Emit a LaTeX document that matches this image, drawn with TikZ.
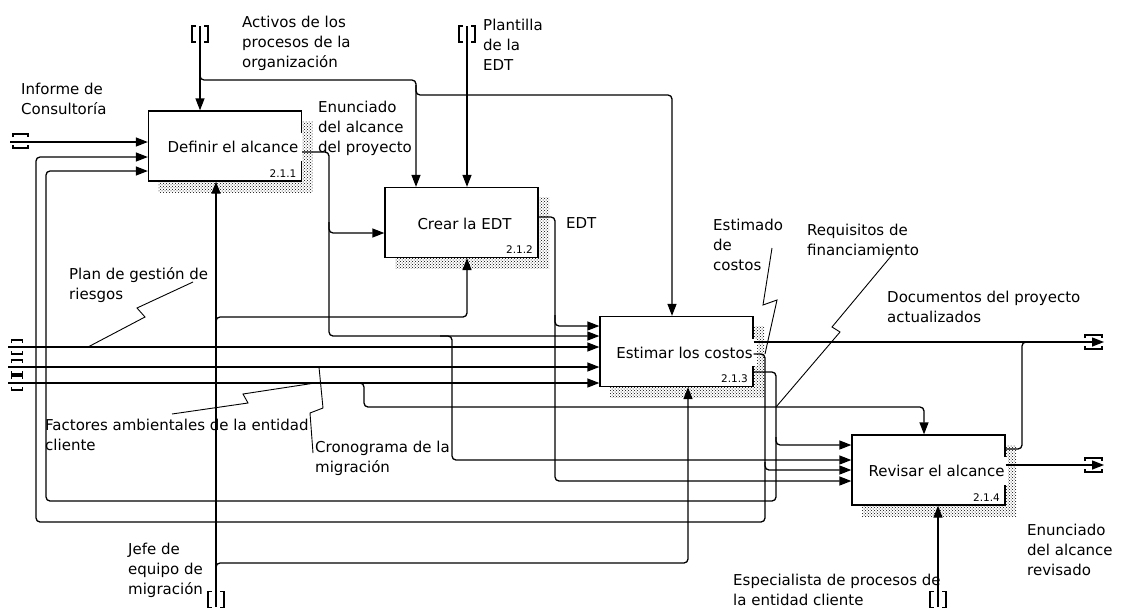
\documentclass[tikz,border=0pt]{standalone}
\usepackage{fontspec}
\setmainfont{DejaVu Sans}
\usetikzlibrary{arrows.meta,patterns}

\tikzset{
	box/.style={draw, line width=1.3pt, fill=white, minimum width=153pt, minimum height=70pt, inner sep=0pt},
	shade/.style={pattern=crosshatch dots, pattern color=black},
	act/.style={fill=white, inner xsep=4pt, inner ysep=8pt, font=\fontsize{15}{20}\selectfont},
	num/.style={anchor=base east, inner sep=0pt, font=\fontsize{10.5}{12}\selectfont},
	lbl/.style={anchor=north west, inner sep=0pt, align=left, font=\fontsize{15}{20}\selectfont},
	flow/.style={line width=1.3pt, rounded corners=4pt},
	arr/.style={flow, -{Triangle[length=12pt,width=9pt]}},
	squig/.style={line width=0.9pt},
	tun/.style={line width=1.2pt}
}

\newcommand{\vtunnel}[1]{%
	\begin{scope}[shift={(#1)}]
		\draw[tun] (-4,-8) -- (-8,-8) -- (-8,8) -- (-4,8);
		\draw[tun] (4,-8) -- (8,-8) -- (8,8) -- (4,8);
	\end{scope}}
\newcommand{\htunnel}[2]{%
	\begin{scope}[shift={(#1)}]
		\draw[tun] (-#2,-4) -- (-#2,-7) -- (#2,-7) -- (#2,-4);
		\draw[tun] (-#2,4) -- (-#2,7) -- (#2,7) -- (#2,4);
	\end{scope}}

\begin{document}
\begin{tikzpicture}[x=1pt,y=-1pt]
	\useasboundingbox (0,0) rectangle (1123,608);

	% actividades
	\foreach \n/\x/\y/\d/\t/\k in {a1/225/146/8/Definir el alcance/2.1.1,
			a2/461.5/222.5/3/Crear la EDT/2.1.2,
			a3/676.5/351.5/8/Estimar los costos/2.1.3,
			a4/928.5/470/8/Revisar el alcance/2.1.4}{
		\fill[shade] (\x-66.5,\y-25) rectangle (\x+87.5,\y+46);
		\node[box] (\n) at (\x,\y) {};
		\node[act] (\n-t) at (\x+\d,\y+1) {\t};
		\node[num] (\n-n) at (\x+71.5,\y+31) {\k};
	}

	% extremos libres
	\coordinate (inf) at (10,142);
	\coordinate (act) at (200,26);
	\coordinate (pla) at (467,26);
	\coordinate (plan) at (8,347);
	\coordinate (cro) at (8,367);
	\coordinate (fac) at (8,383);
	\coordinate (jefe) at (216,607);
	\coordinate (esp) at (938,607);
	\coordinate (doc) at (1104,342);
	\coordinate (rev) at (1104,465);

	% entradas y controles externos
	\draw[arr] (inf) -- (inf -| a1.west);
	\draw[arr] (act) -- (act |- a1.north);
	\draw[arr] (200,72) -- (200,80) -- (416,80) -- (a2.north -| 416,0);
	\draw[arr] (416,85) -- (416,95) -- (672,95) -- (a3.north -| 672,0);
	\draw[arr] (pla) -- (pla |- a2.north);
	\draw[arr] (plan) -- (plan -| a3.west);
	\draw[arr] (cro) -- (cro -| a3.west);
	\draw[arr] (fac) -- (fac -| a3.west);
	\draw[arr] (355,383) -- (364,383) -- (364,407) -- (924,407) -- (a4.north -| 924,0);

	% mecanismos
	\draw[arr] (jefe) -- (jefe |- a1.south);
	\draw[arr] (216,325) -- (216,317) -- (467,317) -- (a2.south -| 467,0);
	\draw[arr] (216,571) -- (216,563) -- (688,563) -- (a3.south -| 688,0);
	\draw[arr] (esp) -- (esp |- a4.south);

	% enunciado del alcance del proyecto
	\draw[arr] (a1.east |- 0,152) -- (329,152) -- (329,336) -- (a3.west |- 0,336);
	\draw[arr] (329,222) -- (329,233) -- (a2.west |- 0,233);
	\draw[arr] (440,336) -- (452,336) -- (452,460) -- (a4.west |- 0,460);

	% EDT
	\draw[arr] (a2.east |- 0,217) -- (555,217) -- (555,481) -- (a4.west |- 0,481);
	\draw[arr] (555,315) -- (555,326) -- (a3.west |- 0,326);

	% salidas de 2.1.3
	\draw[arr] (a3.east |- 0,342) -- (doc);
	\draw[arr] (a3.east |- 0,354) -- (765,354) -- (765,522) -- (36,522) -- (36,157) -- (a1.west |- 0,157);
	\draw[arr] (765,462) -- (765,470) -- (a4.west |- 0,470);
	\draw[arr] (a3.east |- 0,372) -- (776,372) -- (776,501) -- (46,501) -- (46,171) -- (a1.west |- 0,171);
	\draw[arr] (776,437) -- (776,445) -- (a4.west |- 0,445);

	% salidas de 2.1.4
	\draw[flow] (a4.east |- 0,449) -- (1022,449) -- (1022,342) -- (1032,342);
	\draw[arr] (a4.east |- 0,465) -- (rev);

	% tuneles
	\vtunnel{200,34}
	\vtunnel{467,34}
	\vtunnel{216,599.5}
	\vtunnel{938,599.5}
	\htunnel{20.5,141}{7.5}
	\htunnel{17,347}{5.5}
	\htunnel{17,367}{5.5}
	\htunnel{17,383}{5.5}
	\htunnel{1093.5,342}{8.5}
	\htunnel{1093.5,465}{8.5}

	% etiquetas
	\node[lbl] (l-inf) at (21,83) {Informe de\\Consultoría};
	\node[lbl] (l-act) at (242,16) {Activos de los\\procesos de la\\organización};
	\node[lbl] (l-pla) at (483,19) {Plantilla\\de la\\EDT};
	\node[lbl] (l-enu) at (318,101) {Enunciado\\del alcance\\del proyecto};
	\node[lbl] (l-edt) at (566,217) {EDT};
	\node[lbl] (l-est) at (713,219) {Estimado\\de\\costos};
	\node[lbl] (l-req) at (807,224) {Requisitos de\\financiamiento};
	\node[lbl] (l-doc) at (887,291) {Documentos del proyecto\\actualizados};
	\node[lbl] (l-plan) at (69,267) {Plan de gestión de\\riesgos};
	\node[lbl] (l-fac) at (45,419) {Factores ambientales de la entidad\\cliente};
	\node[lbl] (l-cro) at (315,441) {Cronograma de la\\migración};
	\node[lbl] (l-jefe) at (128,543) {Jefe de\\equipo de\\migración};
	\node[lbl] (l-esp) at (733,574) {Especialista de procesos de\\la entidad cliente};
	\node[lbl] (l-rev) at (1027,524) {Enunciado\\del alcance\\revisado};

	% rayos de las etiquetas
	\draw[squig] (193,282) -- (137,308) -- (145,317) -- (88,347);
	\draw[squig] (172,414) -- (248,403) -- (243,394) -- (315,383);
	\draw[squig] (313,453) -- (310,413) -- (323,408) -- (319,367);
	\draw[squig] (772,248) -- (763,305) -- (777,300) -- (765,354);
	\draw[squig] (892,255) -- (832,327) -- (840,332) -- (776,407);
\end{tikzpicture}
\end{document}
